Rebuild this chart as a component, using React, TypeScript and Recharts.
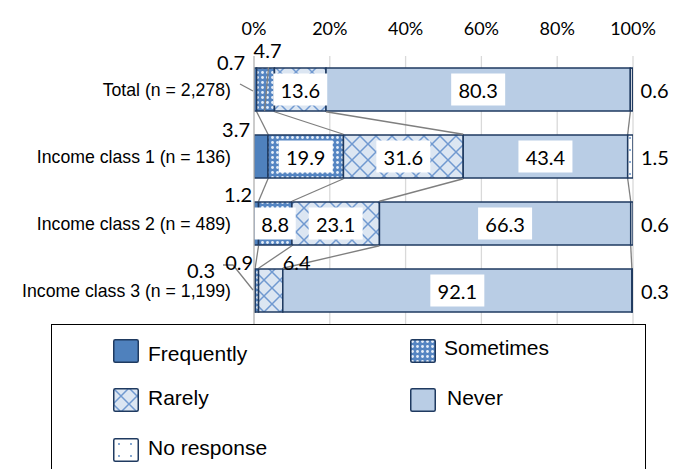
import React from 'react';
import { BarChart, Bar, XAxis, YAxis, CartesianGrid, LabelList } from 'recharts';

const groups = [
  'Total (n = 2,278)',
  'Income class 1 (n = 136)',
  'Income class 2 (n = 489)',
  'Income class 3 (n = 1,199)',
];
const frequently = [0.7, 3.7, 1.2, 0.3];
const sometimes = [4.7, 19.9, 8.8, 0.9];
const rarely = [13.6, 31.6, 23.1, 6.4];
const never = [80.3, 43.4, 66.3, 92.1];
const noResponse = [0.6, 1.5, 0.6, 0.3];
const pctTicks = [0, 20, 40, 60, 80, 100];

const data = groups.map((group, i) => ({
  group,
  frequently: frequently[i],
  sometimes: sometimes[i],
  rarely: rarely[i],
  never: never[i],
  noResponse: noResponse[i],
}));

const EDGE = '#1f3a60';
const LINK = '#7f7f7f';
const NUM_FONT = 'Lato, "Noto Sans", sans-serif';
const TXT_FONT = '"Liberation Sans", Arial, sans-serif';

const FILLS = {
  frequently: '#4f81bd',
  sometimes: 'url(#pt-sometimes)',
  rarely: 'url(#pt-rarely)',
  never: '#b9cde5',
  noResponse: 'url(#pt-none)',
};

// running totals at the right edge of each segment (except the last one)
const bounds = (i: number) => {
  const a = frequently[i];
  const b = a + sometimes[i];
  const c = b + rarely[i];
  return [a, b, c, c + never[i]];
};

const Segment = (props: any) => {
  const { x, y, width, height, fill } = props;
  return <rect x={x} y={y} width={Math.max(width, 0)} height={height} fill={fill} stroke={EDGE} strokeWidth={1.5} />;
};

// rows already drawn, so the next row can join its boundaries to them
const neverRows: Record<number, { y: number; h: number }> = {};

const NeverSegment = (props: any) => {
  const { x, y, width, height, index, fill } = props;
  neverRows[index] = { y, h: height };
  const prev = neverRows[index - 1];
  let links: React.ReactNode = null;
  if (index > 0 && prev) {
    const k = width / never[index];
    const x0 = x - (frequently[index] + sometimes[index] + rarely[index]) * k;
    const a = bounds(index - 1);
    const b = bounds(index);
    links = a.map((v, n) => (
      <line
        key={n}
        x1={x0 + v * k}
        y1={prev.y + prev.h + 0.75}
        x2={x0 + b[n] * k}
        y2={y - 0.75}
        stroke={LINK}
        strokeWidth={1.3}
      />
    ));
  }
  return (
    <g>
      <rect x={x} y={y} width={width} height={height} fill={fill} stroke={EDGE} strokeWidth={1.5} />
      {links}
    </g>
  );
};

const numText = (x: number, y: number, s: string, anchor: 'start' | 'middle' | 'end' = 'middle') => (
  <text x={x} y={y} textAnchor={anchor} dominantBaseline="central" fontFamily={NUM_FONT} fontSize={20} fill="#000">
    {s}
  </text>
);

const boxed = (cx: number, cy: number, s: string) => {
  const w = s.length > 3 ? 54 : 41;
  return (
    <g>
      <rect x={cx - w / 2} y={cy - 16} width={w} height={32} fill="#fff" />
      {numText(cx, cy, s)}
    </g>
  );
};

const readBox = (props: any) => {
  const vb = props.viewBox ?? props;
  return { x: Number(vb.x), y: Number(vb.y), w: Number(vb.width), h: Number(vb.height) };
};

const frequentlyLabel = (props: any) => {
  const { x, y } = readBox(props);
  const s = Number(props.value).toFixed(1);
  switch (props.index) {
    case 0:
      return (
        <g>
          <line x1={x - 14} y1={y + 16} x2={x - 1} y2={y + 23} stroke={LINK} strokeWidth={1.3} />
          {numText(x - 9, y - 6, s, 'end')}
        </g>
      );
    case 1:
      return numText(x - 4, y - 6, s, 'end');
    case 2:
      return numText(x - 2, y - 8, s, 'end');
    default:
      return (
        <g>
          <polyline
            points={`${x - 31},${y - 4} ${x - 21},${y - 4} ${x - 1},${y + 21}`}
            fill="none"
            stroke={LINK}
            strokeWidth={1.3}
          />
          {numText(x - 39, y + 1, s, 'end')}
        </g>
      );
  }
};

const sometimesLabel = (props: any) => {
  const { x, y, w, h } = readBox(props);
  const s = Number(props.value).toFixed(1);
  const cx = x + w / 2;
  if (props.index === 0) {
    return (
      <g>
        <line x1={cx + 3} y1={y - 1} x2={cx - 1} y2={y + h} stroke={LINK} strokeWidth={1.3} />
        {numText(cx + 2, y - 18, s)}
      </g>
    );
  }
  if (props.index === 3) return numText(x - 2, y - 7, s, 'end');
  return boxed(cx, y + h / 2, s);
};

const rarelyLabel = (props: any) => {
  const { x, y, w, h } = readBox(props);
  const s = Number(props.value).toFixed(1);
  if (props.index === 3) return numText(x + w / 2 + 26, y - 7, s);
  return boxed(x + w / 2, y + h / 2, s);
};

const neverLabel = (props: any) => {
  const { x, y, w, h } = readBox(props);
  return boxed(x + w / 2, y + h / 2, Number(props.value).toFixed(1));
};

const noResponseLabel = (props: any) => {
  const { x, y, w, h } = readBox(props);
  return numText(x + w + 8, y + h / 2, Number(props.value).toFixed(1), 'start');
};

const Swatch = ({ fill }: { fill: string }) => (
  <svg width={26} height={24} style={{ display: 'block' }}>
    <rect x={0.75} y={0.75} width={24.5} height={22.5} rx={1.5} fill={fill} stroke={EDGE} strokeWidth={1.5} />
  </svg>
);

const legendItems = [
  { name: 'Frequently', fill: FILLS.frequently, left: 61, top: 14, textLeft: 96, textMid: 29 },
  { name: 'Sometimes', fill: FILLS.sometimes, left: 358, top: 14, textLeft: 392, textMid: 23 },
  { name: 'Rarely', fill: FILLS.rarely, left: 61, top: 63, textLeft: 96, textMid: 73 },
  { name: 'Never', fill: FILLS.never, left: 358, top: 63, textLeft: 395, textMid: 73 },
  { name: 'No response', fill: FILLS.noResponse, left: 61, top: 113, textLeft: 96, textMid: 123 },
];

export default function App() {
  return (
    <div style={{ position: 'absolute', left: 0, top: 0, width: 682, height: 469, background: '#fff', overflow: 'hidden' }}>
      <svg width={0} height={0} style={{ position: 'absolute' }}>
        <defs>
          <pattern id="pt-sometimes" width={5} height={5} patternUnits="userSpaceOnUse">
            <rect width={5} height={5} fill="#5585c2" />
            <circle cx={2.5} cy={2.5} r={1.4} fill="#e6eef8" />
          </pattern>
          <pattern id="pt-rarely" width={16} height={16} patternUnits="userSpaceOnUse">
            <rect width={16} height={16} fill="#dce6f2" />
            <path d="M0 0L16 16M16 0L0 16" stroke="#7099d0" strokeWidth={1.5} />
          </pattern>
          <pattern id="pt-none" width={12} height={12} patternUnits="userSpaceOnUse">
            <rect width={12} height={12} fill="#fff" />
            <circle cx={6} cy={6} r={0.9} fill="#4f81bd" />
          </pattern>
        </defs>
      </svg>

      <BarChart
        width={682}
        height={324}
        data={data}
        layout="vertical"
        margin={{ top: 0, right: 49, bottom: 0, left: 0 }}
        barSize={43}
      >
        <CartesianGrid horizontal={false} stroke="#d9d9d9" strokeWidth={1.3} />
        <XAxis
          type="number"
          orientation="top"
          domain={[0, 100]}
          allowDataOverflow
          ticks={pctTicks}
          interval={0}
          height={56}
          axisLine={false}
          tickLine={false}
          tickSize={0}
          tickMargin={21}
          tickFormatter={(v: number) => `${v}%`}
          tick={{ fontFamily: NUM_FONT, fontSize: 18, fill: '#000' }}
        />
        <YAxis
          type="category"
          dataKey="group"
          width={254}
          interval={0}
          axisLine={{ stroke: '#bfbfbf', strokeWidth: 1.3 }}
          tickLine={false}
          tickSize={0}
          tickMargin={23}
          tick={{ fontFamily: TXT_FONT, fontSize: 17.7, fill: '#000' }}
        />
        <Bar dataKey="frequently" stackId="s" fill={FILLS.frequently} shape={Segment} isAnimationActive={false}>
          <LabelList dataKey="frequently" content={frequentlyLabel} />
        </Bar>
        <Bar dataKey="sometimes" stackId="s" fill={FILLS.sometimes} shape={Segment} isAnimationActive={false}>
          <LabelList dataKey="sometimes" content={sometimesLabel} />
        </Bar>
        <Bar dataKey="rarely" stackId="s" fill={FILLS.rarely} shape={Segment} isAnimationActive={false}>
          <LabelList dataKey="rarely" content={rarelyLabel} />
        </Bar>
        <Bar dataKey="never" stackId="s" fill={FILLS.never} shape={NeverSegment} isAnimationActive={false}>
          <LabelList dataKey="never" content={neverLabel} />
        </Bar>
        <Bar dataKey="noResponse" stackId="s" fill={FILLS.noResponse} shape={Segment} isAnimationActive={false}>
          <LabelList dataKey="noResponse" content={noResponseLabel} />
        </Bar>
      </BarChart>

      <div
        style={{
          position: 'absolute',
          left: 51,
          top: 324,
          width: 595,
          height: 170,
          border: '1.5px solid #000',
          boxSizing: 'border-box',
          fontFamily: TXT_FONT,
          fontSize: 21,
          color: '#000',
        }}
      >
        {legendItems.map((it) => (
          <React.Fragment key={it.name}>
            <div style={{ position: 'absolute', left: it.left, top: it.top }}>
              <Swatch fill={it.fill} />
            </div>
            <div style={{ position: 'absolute', left: it.textLeft, top: it.textMid - 12, lineHeight: '24px', whiteSpace: 'nowrap' }}>
              {it.name}
            </div>
          </React.Fragment>
        ))}
      </div>
    </div>
  );
}
